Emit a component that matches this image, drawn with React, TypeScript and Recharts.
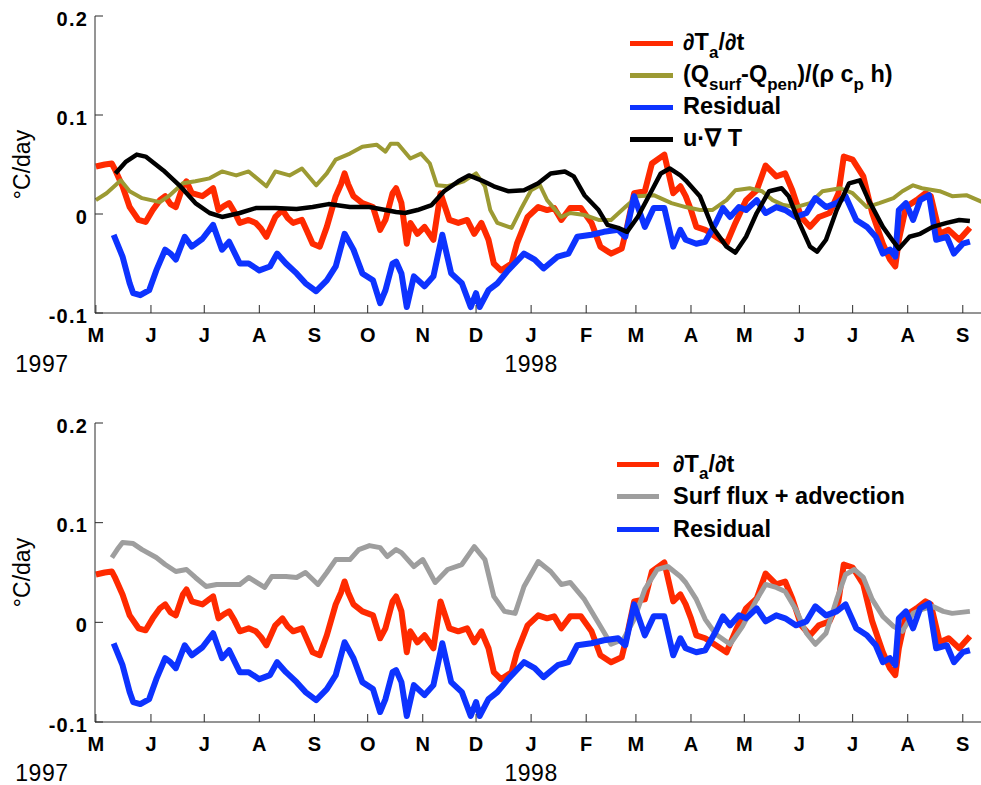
import React from 'react';
import { LineChart, Line, XAxis, YAxis, Legend } from 'recharts';

// ---------- axis ticks (days since 1 May 1997) ----------
const monthTickDays = [0, 31, 61, 92, 123, 153, 184, 214, 245, 276, 304, 335, 365, 396, 426, 457, 488];
const monthTickLabels = ['M', 'J', 'J', 'A', 'S', 'O', 'N', 'D', 'J', 'F', 'M', 'A', 'M', 'J', 'J', 'A', 'S'];
const yearTickDays = [0, 245];
const yearTickLabels = ['1997', '1998'];
const yTickValues = [-0.1, 0, 0.1, 0.2];
const yTickLabels = ['-0.1', '0', '0.1', '0.2'];

// ---------- series: [day, °C/day] ----------
const dTdtSeries: [number, number][] = [
  [0, 0.048], [5, 0.05], [9, 0.051], [11, 0.044], [15, 0.028], [19, 0.007], [24, -0.006], [28, -0.008],
  [32, 0.004], [36, 0.014], [39, 0.018], [42, 0.01], [45, 0.007], [49, 0.028], [51, 0.033], [54, 0.021],
  [60, 0.018], [63, 0.022], [66, 0.026], [69, 0.004], [72, 0.008], [75, 0.011], [78, 0.002], [81, -0.009],
  [86, -0.006], [90, -0.009], [93, -0.015], [96, -0.023], [101, -0.003], [105, 0.004], [108, -0.004],
  [111, -0.009], [116, -0.006], [119, -0.018], [122, -0.03], [126, -0.033], [130, -0.013], [135, 0.018],
  [138, 0.03], [140, 0.041], [142, 0.03], [145, 0.018], [150, 0.011], [156, 0.007], [160, -0.016],
  [163, -0.006], [167, 0.021], [169, 0.026], [172, 0.011], [175, -0.03], [177, -0.009], [181, -0.02],
  [185, -0.013], [190, -0.026], [194, 0.021], [199, -0.006], [204, -0.009], [209, -0.006], [213, -0.02],
  [217, -0.009], [221, -0.026], [224, -0.05], [228, -0.057], [234, -0.05], [237, -0.03], [243, -0.003],
  [249, 0.007], [254, 0.004], [258, 0.006], [262, -0.006], [267, 0.006], [273, 0.006], [279, -0.009],
  [284, -0.033], [290, -0.04], [296, -0.035], [299, -0.013], [303, 0.021], [309, 0.023], [313, 0.051],
  [320, 0.06], [325, 0.021], [329, 0.028], [332, 0.018], [335, 0.004], [338, -0.013], [343, -0.016],
  [349, -0.023], [355, -0.03], [360, -0.009], [366, 0.014], [372, 0.024], [377, 0.049], [383, 0.038],
  [388, 0.041], [392, 0.024], [397, -0.003], [402, -0.013], [407, -0.003], [413, 0.001], [418, 0.021],
  [421, 0.058], [426, 0.055], [432, 0.038], [437, 0.001], [443, -0.03], [447, -0.046], [450, -0.053],
  [452, -0.026], [456, 0.007], [462, 0.014], [467, 0.021], [470, 0.018], [475, -0.02], [480, -0.016],
  [486, -0.026], [492, -0.014],
];

const surfFluxSeries: [number, number][] = [
  [0, 0.014], [6, 0.021], [11, 0.029], [14, 0.034], [19, 0.023], [26, 0.016], [36, 0.012], [41, 0.018],
  [49, 0.031], [56, 0.033], [64, 0.036], [71, 0.043], [79, 0.039], [86, 0.043], [96, 0.028], [101, 0.043],
  [109, 0.039], [116, 0.046], [124, 0.029], [130, 0.041], [135, 0.055], [143, 0.061], [150, 0.068],
  [158, 0.07], [163, 0.063], [166, 0.071], [170, 0.071], [177, 0.056], [183, 0.061], [188, 0.051],
  [192, 0.029], [198, 0.028], [207, 0.033], [214, 0.041], [219, 0.028], [222, 0.004], [226, -0.009],
  [234, -0.014], [239, 0.004], [245, 0.024], [250, 0.029], [254, 0.014], [262, -0.003], [267, 0.001],
  [275, -0.001], [283, -0.006], [290, -0.006], [298, 0.007], [305, 0.018], [314, 0.019], [324, 0.011],
  [332, 0.007], [340, 0.004], [347, 0.004], [355, 0.014], [360, 0.024], [368, 0.026], [375, 0.023],
  [381, 0.014], [387, 0.009], [394, 0.007], [402, 0.011], [409, 0.023], [419, 0.026], [426, 0.021],
  [434, 0.007], [441, 0.011], [449, 0.016], [454, 0.023], [460, 0.029], [465, 0.026], [475, 0.023],
  [482, 0.018], [490, 0.019], [499, 0.012],
];

const residualSeries: [number, number][] = [
  [10, -0.021], [15, -0.043], [19, -0.07], [21, -0.08], [25, -0.082], [30, -0.077], [34, -0.057],
  [39, -0.036], [42, -0.04], [45, -0.046], [50, -0.023], [54, -0.033], [60, -0.025], [66, -0.011],
  [71, -0.036], [75, -0.028], [81, -0.05], [86, -0.05], [92, -0.057], [98, -0.053], [102, -0.04],
  [107, -0.05], [113, -0.06], [118, -0.07], [124, -0.078], [130, -0.067], [135, -0.053], [140, -0.02],
  [145, -0.036], [150, -0.06], [156, -0.067], [160, -0.09], [163, -0.077], [167, -0.05], [169, -0.048],
  [172, -0.06], [175, -0.094], [179, -0.063], [185, -0.073], [190, -0.063], [195, -0.021], [200, -0.06],
  [206, -0.07], [211, -0.094], [214, -0.08], [216, -0.094], [221, -0.077], [226, -0.07], [232, -0.057],
  [241, -0.04], [247, -0.046], [252, -0.055], [260, -0.043], [266, -0.04], [271, -0.023], [279, -0.021],
  [286, -0.018], [294, -0.016], [298, -0.023], [303, 0.018], [309, -0.013], [314, 0.006], [320, 0.006],
  [325, -0.033], [329, -0.016], [332, -0.026], [338, -0.03], [343, -0.028], [349, -0.009], [353, 0.006],
  [357, -0.003], [362, 0.007], [366, 0.004], [372, 0.014], [377, 0.001], [383, 0.007], [388, 0.004],
  [394, -0.003], [400, 0.001], [405, 0.016], [411, 0.007], [417, 0.011], [422, 0.018], [428, -0.006],
  [434, -0.013], [439, -0.023], [443, -0.04], [447, -0.036], [450, -0.043], [452, 0.004], [456, 0.011],
  [460, -0.006], [464, 0.014], [469, 0.019], [473, -0.026], [479, -0.023], [483, -0.04], [488, -0.03],
  [492, -0.028],
];

const advectionSeries: [number, number][] = [
  [11, 0.041], [17, 0.053], [23, 0.06], [28, 0.058], [38, 0.044], [47, 0.029], [56, 0.011], [64, 0.001],
  [71, -0.003], [81, 0.001], [90, 0.006], [101, 0.006], [113, 0.005], [122, 0.007], [131, 0.01],
  [143, 0.007], [154, 0.007], [163, 0.004], [169, 0.002], [174, 0.001], [181, 0.004], [189, 0.009],
  [196, 0.023], [204, 0.033], [210, 0.039], [217, 0.034], [224, 0.028], [232, 0.023], [241, 0.024],
  [249, 0.031], [256, 0.041], [264, 0.043], [269, 0.038], [275, 0.019], [283, 0.004], [288, -0.011],
  [294, -0.014], [299, -0.018], [305, -0.003], [313, 0.024], [318, 0.041], [323, 0.046], [329, 0.039],
  [332, 0.034], [340, 0.018], [347, -0.013], [355, -0.033], [360, -0.039], [366, -0.023], [372, 0.001],
  [379, 0.023], [386, 0.026], [390, 0.018], [396, -0.009], [402, -0.033], [406, -0.038], [411, -0.026],
  [417, 0.004], [424, 0.031], [430, 0.034], [435, 0.014], [443, -0.013], [449, -0.028], [452, -0.035],
  [458, -0.023], [464, -0.02], [471, -0.013], [479, -0.009], [486, -0.006], [492, -0.007],
];

const fluxPlusAdvectionSeries: [number, number][] = [
  [9, 0.065], [12, 0.073], [15, 0.08], [21, 0.079], [26, 0.073], [34, 0.065], [39, 0.058], [45, 0.051],
  [51, 0.053], [56, 0.045], [62, 0.036], [68, 0.038], [75, 0.038], [81, 0.038], [86, 0.045], [95, 0.035],
  [99, 0.046], [107, 0.046], [113, 0.045], [118, 0.05], [125, 0.038], [130, 0.05], [135, 0.063],
  [143, 0.063], [148, 0.073], [154, 0.077], [160, 0.075], [164, 0.066], [169, 0.073], [172, 0.07],
  [179, 0.056], [184, 0.063], [191, 0.04], [198, 0.053], [206, 0.058], [213, 0.076], [219, 0.063],
  [224, 0.026], [230, 0.011], [236, 0.009], [241, 0.036], [249, 0.061], [256, 0.051], [262, 0.038],
  [267, 0.04], [275, 0.023], [283, -0.001], [290, -0.022], [297, -0.017], [303, 0.003], [309, 0.033],
  [316, 0.053], [322, 0.056], [329, 0.046], [332, 0.04], [338, 0.023], [343, 0.003], [349, -0.012],
  [357, -0.022], [364, -0.004], [372, 0.023], [377, 0.038], [383, 0.035], [388, 0.031], [394, 0.013],
  [400, -0.011], [405, -0.022], [411, -0.011], [417, 0.023], [422, 0.048], [427, 0.053], [432, 0.045],
  [437, 0.023], [443, 0.006], [449, -0.004], [454, -0.009], [460, 0.009], [465, 0.013], [471, 0.016],
  [477, 0.011], [482, 0.009], [492, 0.011],
];

// ---------- styling ----------
const FONT = '"Liberation Sans", Arial, Helvetica, sans-serif';
const AXIS_COLOR = '#2a2a2a';
const X_DOMAIN: [number, number] = [-0.5, 500.5];
const Y_DOMAIN: [number, number] = [-0.1, 0.2];
const PLOT_LEFT = 95;
const PLOT_RIGHT = 985;
const TICK_LEN = 8;
const X_AXIS_HEIGHT = 60;

const toRows = (s: [number, number][]) => s.map(([d, v]) => ({ d, v }));

const Sub = ({ children }: { children: React.ReactNode }) => (
  <span style={{ fontSize: '0.72em', position: 'relative', top: '0.45em' }}>{children}</span>
);

type SeriesDef = {
  name: string;
  color: string;
  width: number;
  rows: { d: number; v: number }[];
  label: React.ReactNode;
};

const dTdtLabel = (
  <>
    ∂T<Sub>a</Sub>/∂t
  </>
);

const topSeries: SeriesDef[] = [
  { name: 'dTdt', color: '#ff2a00', width: 6, rows: toRows(dTdtSeries), label: dTdtLabel },
  {
    name: 'surf',
    color: '#9c9a33',
    width: 4,
    rows: toRows(surfFluxSeries),
    label: (
      <>
        (Q<Sub>surf</Sub>-Q<Sub>pen</Sub>)/(ρ c<Sub>p</Sub> h)
      </>
    ),
  },
  { name: 'resid', color: '#0d33ff', width: 6, rows: toRows(residualSeries), label: 'Residual' },
  { name: 'adv', color: '#000000', width: 4.5, rows: toRows(advectionSeries), label: 'u·∇ T' },
];

const bottomSeries: SeriesDef[] = [
  { name: 'dTdt', color: '#ff2a00', width: 6, rows: toRows(dTdtSeries), label: dTdtLabel },
  { name: 'sum', color: '#9e9e9e', width: 5, rows: toRows(fluxPlusAdvectionSeries), label: 'Surf flux + advection' },
  { name: 'resid', color: '#0d33ff', width: 6, rows: toRows(residualSeries), label: 'Residual' },
];

const boldText = { fontFamily: FONT, fontWeight: 700 as const, fill: '#000' };
const plainText = { fontFamily: FONT, fontWeight: 400 as const, fill: '#000' };

function makeBottomTick(plotBottom: number) {
  return (props: any) => {
    const { x, payload } = props;
    const i = monthTickDays.indexOf(payload.value);
    const yi = yearTickDays.indexOf(payload.value);
    return (
      <g>
        <line x1={x} x2={x} y1={plotBottom} y2={plotBottom - TICK_LEN} stroke={AXIS_COLOR} strokeWidth={1} />
        <text x={x} y={plotBottom + 29} textAnchor="middle" fontSize={20} {...boldText}>
          {monthTickLabels[i]}
        </text>
        {yi >= 0 && (
          <text
            x={yi === 0 ? x - 54 : x}
            y={plotBottom + 59}
            textAnchor="middle"
            fontSize={23}
            letterSpacing={0.5}
            {...plainText}
          >
            {yearTickLabels[yi]}
          </text>
        )}
      </g>
    );
  };
}

function makeTopTick(plotTop: number) {
  return (props: any) => {
    const { x } = props;
    return <line x1={x} x2={x} y1={plotTop} y2={plotTop + TICK_LEN} stroke={AXIS_COLOR} strokeWidth={1} />;
  };
}

const LeftTick = (props: any) => {
  const { y, payload } = props;
  const i = yTickValues.findIndex((v) => Math.abs(v - payload.value) < 1e-9);
  return (
    <g>
      <line x1={PLOT_LEFT} x2={PLOT_LEFT + TICK_LEN} y1={y} y2={y} stroke={AXIS_COLOR} strokeWidth={1} />
      <text x={PLOT_LEFT - 7} y={y + 9.5} textAnchor="end" fontSize={20} letterSpacing={1.2} {...boldText}>
        {yTickLabels[i]}
      </text>
    </g>
  );
};

const RightTick = (props: any) => {
  const { y } = props;
  return <line x1={PLOT_RIGHT} x2={PLOT_RIGHT - TICK_LEN} y1={y} y2={y} stroke={AXIS_COLOR} strokeWidth={1} />;
};

const YLabel = (props: any) => {
  const vb = props.viewBox || {};
  const cy = (vb.y ?? 0) + (vb.height ?? 0) / 2;
  const cx = 30;
  return (
    <text x={cx} y={cy} transform={`rotate(-90, ${cx}, ${cy})`} textAnchor="middle" fontSize={23} {...plainText}>
      °C/day
    </text>
  );
};

function LegendBox({
  series,
  swatch,
  gap,
  rowHeight,
}: {
  series: SeriesDef[];
  swatch: number;
  gap: number;
  rowHeight: number;
}) {
  return (
    <div style={{ fontFamily: FONT, fontWeight: 700, fontSize: 23.5, color: '#000' }}>
      {series.map((s) => (
        <div key={s.name} style={{ display: 'flex', alignItems: 'center', height: rowHeight, whiteSpace: 'nowrap' }}>
          <span style={{ display: 'inline-block', width: swatch, height: 5, background: s.color, marginRight: gap }} />
          <span style={{ lineHeight: 1 }}>{s.label}</span>
        </div>
      ))}
    </div>
  );
}

type PanelProps = {
  top: number;
  height: number;
  plotTop: number;
  plotBottom: number;
  series: SeriesDef[];
  legendLeft: number;
  legendTop: number;
  swatch: number;
  gap: number;
  rowHeight: number;
};

function Panel({ top, height, plotTop, plotBottom, series, legendLeft, legendTop, swatch, gap, rowHeight }: PanelProps) {
  return (
    <div style={{ position: 'absolute', left: 0, top, width: 981, height, overflow: 'hidden' }}>
      <LineChart
        width={PLOT_RIGHT}
        height={height}
        margin={{ top: plotTop, right: 0, bottom: height - plotBottom - X_AXIS_HEIGHT, left: 0 }}
      >
        <XAxis
          xAxisId="b"
          type="number"
          dataKey="d"
          domain={X_DOMAIN}
          ticks={monthTickDays}
          interval={0}
          allowDataOverflow
          height={X_AXIS_HEIGHT}
          axisLine={{ stroke: AXIS_COLOR, strokeWidth: 1 }}
          tickLine={false}
          tick={makeBottomTick(plotBottom)}
        />
        <XAxis
          xAxisId="t"
          orientation="top"
          type="number"
          dataKey="d"
          domain={X_DOMAIN}
          ticks={monthTickDays}
          interval={0}
          allowDataOverflow
          height={0}
          axisLine={{ stroke: AXIS_COLOR, strokeWidth: 1 }}
          tickLine={false}
          tick={makeTopTick(plotTop)}
        />
        <YAxis
          yAxisId="l"
          type="number"
          domain={Y_DOMAIN}
          ticks={yTickValues}
          interval={0}
          allowDataOverflow
          width={PLOT_LEFT}
          axisLine={{ stroke: AXIS_COLOR, strokeWidth: 1 }}
          tickLine={false}
          tick={LeftTick}
          label={{ content: YLabel }}
        />
        <YAxis
          yAxisId="r"
          orientation="right"
          type="number"
          domain={Y_DOMAIN}
          ticks={yTickValues}
          interval={0}
          allowDataOverflow
          width={0}
          axisLine={false}
          tickLine={false}
          tick={RightTick}
        />
        {series.map((s) => (
          <Line
            key={s.name}
            xAxisId="b"
            yAxisId="l"
            data={s.rows}
            dataKey="v"
            name={s.name}
            type="linear"
            stroke={s.color}
            strokeWidth={s.width}
            strokeLinejoin="round"
            dot={false}
            activeDot={false}
            isAnimationActive={false}
          />
        ))}
        <Legend
          layout="horizontal"
          verticalAlign="middle"
          align="center"
          wrapperStyle={{ left: legendLeft, top: legendTop, width: 360 }}
          content={() => <LegendBox series={series} swatch={swatch} gap={gap} rowHeight={rowHeight} />}
        />
      </LineChart>
    </div>
  );
}

export default function App() {
  return (
    <div style={{ position: 'absolute', left: 0, top: 0, width: 981, height: 785, background: '#fff', overflow: 'hidden' }}>
      <Panel
        top={0}
        height={400}
        plotTop={16}
        plotBottom={313}
        series={topSeries}
        legendLeft={630}
        legendTop={27}
        swatch={43}
        gap={10}
        rowHeight={32}
      />
      <Panel
        top={400}
        height={385}
        plotTop={23}
        plotBottom={322}
        series={bottomSeries}
        legendLeft={617}
        legendTop={48}
        swatch={42}
        gap={14}
        rowHeight={32.5}
      />
    </div>
  );
}
